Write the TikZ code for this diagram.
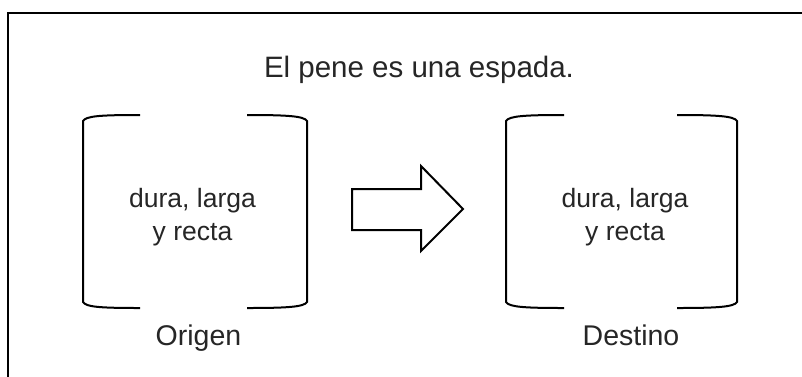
\documentclass[tikz,border=0pt]{standalone}
\usepackage{fontspec}
\setmainfont{Liberation Sans}
\begin{document}
\begin{tikzpicture}[x=1pt,y=-1pt,
  line/.style={line width=2pt,draw=black},
  lbl/.style={font=\fontsize{28.5}{34}\selectfont,text=black!85,inner sep=0pt,anchor=base},
  body/.style={font=\fontsize{26.5}{33}\selectfont,text=black!85,inner sep=0pt,align=center}]
\useasboundingbox (0,0) rectangle (802,376);
\fill[white] (0,0) rectangle (802,376);
\draw[line] (8,13) rectangle (830,400);
\node[lbl,font=\fontsize{29.5}{34}\selectfont] (title) at (419,77) {El pene es una espada.};
% left bracket
\draw[line] (140,115) .. controls (100,115) and (86,116) .. (83,121) -- (83,302) .. controls (86,307) and (100,308) .. (140,308);
\draw[line] (247,115) .. controls (287,115) and (304,116) .. (307,121) -- (307,302) .. controls (304,307) and (287,308) .. (247,308);
% right bracket
\draw[line] (564,115) .. controls (524,115) and (509,116) .. (506,121) -- (506,302) .. controls (509,307) and (524,308) .. (564,308);
\draw[line] (677,115) .. controls (717,115) and (734,116) .. (737,121) -- (737,302) .. controls (734,307) and (717,308) .. (677,308);
\node[body] (src) at (192.5,217.5) {dura, larga\\y recta};
\node[body] (dst) at (625,217.5) {dura, larga\\y recta};
\node[lbl] (origen) at (198.5,345) {Origen};
\node[lbl] (destino) at (631,345) {Destino};
% arrow
\draw[line,line join=miter] (352,189) -- (421,189) -- (421,166) -- (463,209) -- (421,251) -- (421,230) -- (352,230) -- cycle;
\end{tikzpicture}
\end{document}
